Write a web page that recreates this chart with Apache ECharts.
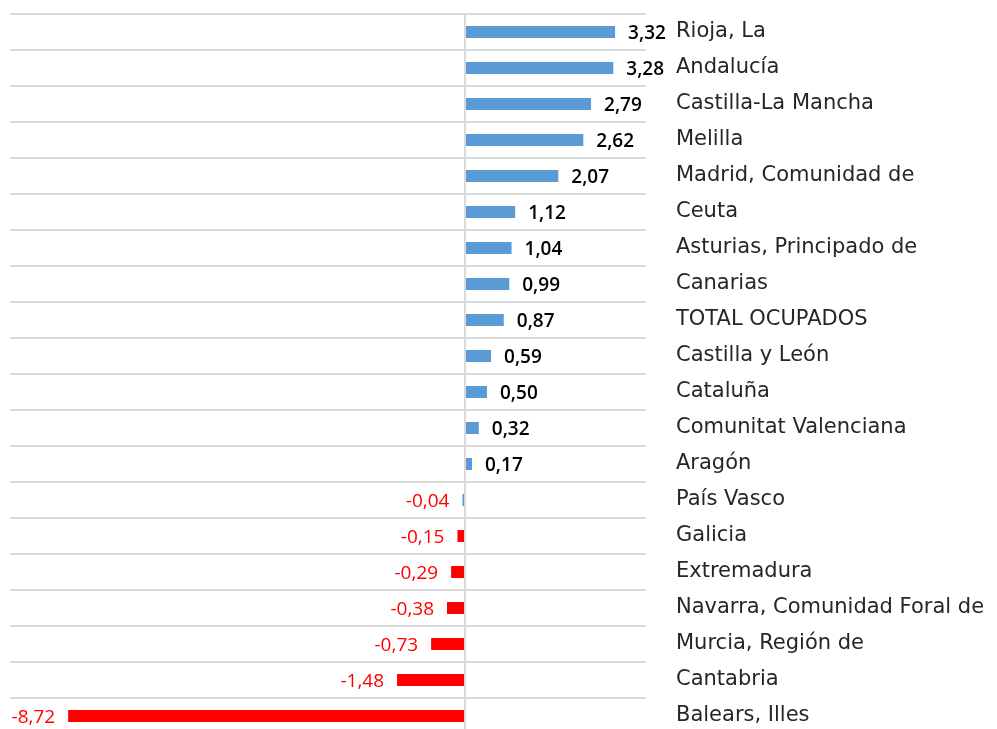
<!DOCTYPE html>
<html>
<head>
<meta charset="utf-8">
<script src="https://cdn.jsdelivr.net/npm/echarts@6/dist/echarts.min.js"></script>
<style>
  html, body { margin: 0; padding: 0; background: #fff; overflow: hidden; }
  #chart { width: 997px; height: 734px; }
</style>
</head>
<body>
<div id="chart"></div>
<script>
// regiones, de arriba abajo
const regiones = [
  'Rioja, La', 'Andalucía', 'Castilla-La Mancha', 'Melilla', 'Madrid, Comunidad de',
  'Ceuta', 'Asturias, Principado de', 'Canarias', 'TOTAL OCUPADOS', 'Castilla y León',
  'Cataluña', 'Comunitat Valenciana', 'Aragón', 'País Vasco', 'Galicia',
  'Extremadura', 'Navarra, Comunidad Foral de', 'Murcia, Región de', 'Cantabria', 'Balears, Illes'
];
const variacion = [
  3.32, 3.28, 2.79, 2.62, 2.07,
  1.12, 1.04, 0.99, 0.87, 0.59,
  0.50, 0.32, 0.17, -0.04, -0.15,
  -0.29, -0.38, -0.73, -1.48, -8.72
];

const AZUL = '#5b9bd5';
const ROJO = '#ff0000';

function fmt(v) {
  return v.toFixed(2).replace('.', ',');
}

const chart = echarts.init(document.getElementById('chart'));

const datos = variacion.map(function (v) {
  const neg = v < 0;
  return {
    value: v,
    // la barra de -0,04 sale azul en el original
    itemStyle: { color: v < -0.1 ? ROJO : AZUL },
    label: {
      position: neg ? 'left' : 'right',
      color: neg ? ROJO : '#000',
      fontWeight: neg ? 'normal' : 600
    }
  };
});

chart.setOption({
  animation: false,
  grid: { left: 10, right: 351, top: 14, bottom: 0, containLabel: false },
  xAxis: {
    type: 'value',
    min: -10,
    max: 4,
    interval: 2,
    show: false
  },
  yAxis: {
    type: 'category',
    data: regiones,
    inverse: true,
    position: 'right',
    axisLine: { show: false },
    axisTick: { show: false },
    axisLabel: {
      margin: 30,
      align: 'left',
      color: '#262626',
      fontFamily: 'DejaVu Sans',
      fontSize: 21
    },
    splitLine: { show: true, lineStyle: { color: '#d9d9d9', width: 2 } }
  },
  series: [{
    type: 'bar',
    data: datos,
    barWidth: 12,
    label: {
      show: true,
      distance: 13,
      offset: [0, 2],
      fontFamily: 'Open Sans',
      fontSize: 19,
      formatter: function (p) { return fmt(p.value); }
    },
    markLine: {
      silent: true,
      symbol: 'none',
      label: { show: false },
      lineStyle: { color: '#d9d9d9', width: 2, type: 'solid' },
      data: [{ xAxis: 0 }]
    }
  }]
});
</script>
</body>
</html>
